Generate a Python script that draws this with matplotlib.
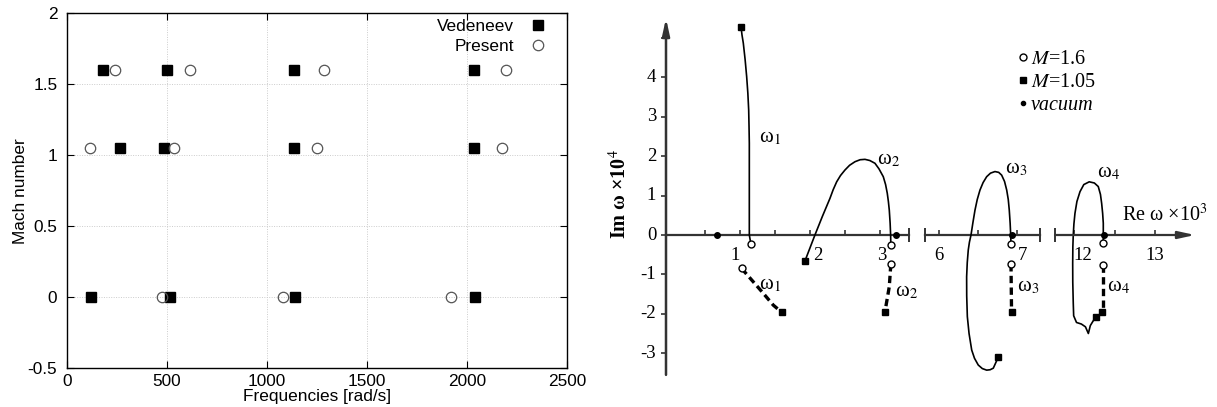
import numpy as np
import matplotlib
matplotlib.use("Agg")
import matplotlib.pyplot as plt
from matplotlib.lines import Line2D

# ---- left panel: Mach number vs frequency ----
VED_FREQ = [181, 502, 1134, 2034, 263, 483, 1134, 2034, 120, 517, 1141, 2038]
VED_MACH = [1.6, 1.6, 1.6, 1.6, 1.05, 1.05, 1.05, 1.05, 0, 0, 0, 0]
PRES_FREQ = [239, 613, 1284, 2195, 114, 534, 1248, 2176, 473, 1078, 1918]
PRES_MACH = [1.6, 1.6, 1.6, 1.6, 1.05, 1.05, 1.05, 1.05, 0, 0, 0]

# ---- right panel: eigenvalue traces (Re w x1e3, Im w x1e4) ----
W1_RE = [1.016, 1.03, 1.049, 1.075, 1.097, 1.114, 1.126, 1.131, 1.135, 1.135, 1.135, 1.159]
W1_IM = [5.29, 5.08, 4.87, 4.45, 4.02, 3.60, 3.17, 2.75, 2.33, 0.63, 0.0, -0.24]
W2_RE = [1.931, 2.074, 2.18, 2.289, 2.335, 2.385, 2.44, 2.504, 2.57, 2.647, 2.72, 2.790,
         2.86, 2.933, 2.99, 3.052, 3.085, 3.109, 3.125, 3.138, 3.15, 3.157, 3.16]
W2_IM = [-0.66, 0.0, 0.47, 0.93, 1.15, 1.35, 1.51, 1.65, 1.77, 1.86, 1.91, 1.92,
         1.89, 1.82, 1.68, 1.48, 1.28, 1.06, 0.85, 0.63, 0.30, 0.0, -0.25]
W3_RE = [6.760, 6.696, 6.655, 6.611, 6.555, 6.503, 6.455, 6.419, 6.385, 6.363, 6.355,
         6.354, 6.362, 6.375, 6.39, 6.410, 6.435, 6.461, 6.49, 6.525, 6.565, 6.611,
         6.66, 6.717, 6.765, 6.803, 6.84, 6.868, 6.888, 6.901, 6.912, 6.919, 6.923]
W3_IM = [-3.10, -3.38, -3.42, -3.43, -3.39, -3.30, -3.13, -2.92, -2.50, -2.07, -1.55,
         -1.06, -0.70, -0.38, -0.18, 0.0, 0.32, 0.63, 0.90, 1.14, 1.33, 1.48,
         1.57, 1.61, 1.59, 1.52, 1.36, 1.14, 0.90, 0.63, 0.30, 0.0, -0.23]
W4_RE = [12.268, 12.20, 12.176, 12.14, 12.09, 12.03, 11.995, 11.990, 11.984, 11.983,
         11.985, 11.990, 11.998, 12.011, 12.035, 12.073, 12.12, 12.187, 12.25, 12.298,
         12.325, 12.340, 12.352, 12.360, 12.360, 12.36]
W4_IM = [-2.07, -2.30, -2.50, -2.33, -2.26, -2.22, -2.05, -1.73, -1.20, -0.72,
         -0.30, 0.0, 0.28, 0.55, 0.85, 1.10, 1.28, 1.35, 1.32, 1.23,
         1.03, 0.80, 0.55, 0.30, 0.0, -0.21]

D1_RE = [1.025, 1.168, 1.335, 1.478, 1.598]
D1_IM = [-0.85, -1.14, -1.48, -1.78, -1.96]
D2_RE = [3.16, 3.138, 3.076]
D2_IM = [-0.74, -1.31, -1.95]
D3_RE = [6.923, 6.93]
D3_IM = [-0.74, -1.95]
D4_RE = [12.36, 12.36]
D4_IM = [-0.76, -1.95]

M16_RE = [1.159, 1.025, 3.16, 3.16, 6.923, 6.923, 12.36, 12.36]
M16_IM = [-0.24, -0.85, -0.25, -0.74, -0.23, -0.74, -0.21, -0.76]
M105_RE = [1.016, 1.598, 1.931, 3.076, 6.760, 6.93, 12.268, 12.346]
M105_IM = [5.29, -1.96, -0.66, -1.95, -3.10, -1.95, -2.07, -1.95]
VAC_RE = [0.668, 3.233, 6.935, 12.37]
VAC_IM = [0, 0, 0, 0]

YTICKS = [-3, -2, -1, 0, 1, 2, 3, 4]
XTICKS = [0.5, 1, 1.5, 2, 2.5, 3, 6, 6.5, 7, 12, 12.5, 13]
XLABELS = [1, 2, 3, 6, 7, 12, 13]
XLABEL_DX = [-5, 8, 2, 0, 5, 9, 0]  # pixel nudges of the printed labels

# broken real axis: Re value -> figure pixel column
RE_BP = [-10, 0, 3.42, 5.82, 7.295, 11.765, 13.49, 25]
PX_BP = [-29, 670, 909, 925, 1040, 1055, 1195, 2130]
SEGMENTS = [(3.42, 5.82), (7.295, 11.765)]


def fwd(x):
    return np.interp(x, RE_BP, PX_BP)


def inv(p):
    return np.interp(p, PX_BP, RE_BP)


W, H = 1217, 407
fig = plt.figure(figsize=(W / 100, H / 100), dpi=100)

# ---------------- left ----------------
ax = fig.add_axes([67 / W, 1 - 368.3 / H, 500 / W, 355 / H])
sans = "Liberation Sans"
ax.plot(VED_FREQ, VED_MACH, "s", color="black", ms=7.5, label="Vedeneev", zorder=3)
ax.plot(PRES_FREQ, PRES_MACH, "o", mfc="none", mec="#555555", mew=0.9, ms=7.5,
        label="Present", zorder=4)
ax.set_xlim(0, 2500)
ax.set_ylim(-0.5, 2)
ax.set_xticks([0, 500, 1000, 1500, 2000, 2500])
ax.set_yticks([-0.5, 0, 0.5, 1, 1.5, 2])
ax.set_yticklabels(["-0.5", "0", "0.5", "1", "1.5", "2"])
ax.grid(color="#cccccc", linestyle=(0, (1, 1.5)), linewidth=0.7)
ax.tick_params(direction="in", top=True, right=True, length=5, width=0.8,
               labelsize=12.4, pad=4)
ax.tick_params(axis="y", pad=7)
for lab in ax.get_xticklabels() + ax.get_yticklabels():
    lab.set_family(sans)
for s in ax.spines.values():
    s.set_linewidth(1.0)
ax.set_xlabel("Frequencies [rad/s]", family=sans, fontsize=12.4, labelpad=0)
ax.set_ylabel("Mach number", family=sans, fontsize=12.4, labelpad=-0.5)
leg = ax.legend(loc="upper right", bbox_to_anchor=(1 - 12 / 500, 1 + 3 / 355),
                markerfirst=False, frameon=False,
                prop={"family": sans, "size": 12.4}, handlelength=1.0,
                handletextpad=0.9, borderaxespad=0.1, labelspacing=0.3)

# ---------------- right ----------------
plt.rcParams["mathtext.fontset"] = "stix"
serif = "Liberation Serif"
bx = fig.add_axes([600 / W, 0, 617 / W, 1])
bx.set_xscale("function", functions=(fwd, inv))
bx.set_xlim(inv(600), inv(1217))
bx.set_ylim((235 - 407) / 39.4, 235 / 39.4)
bx.axis("off")
ax_col = "#333333"
y_axis_re = inv(666)

# axes
bx.annotate("", xy=(y_axis_re, 5.5), xytext=(y_axis_re, -3.55),
            arrowprops=dict(arrowstyle="-|>,head_width=0.22,head_length=1.0",
                            lw=1.8, color=ax_col, shrinkA=0, shrinkB=0))
edges = [y_axis_re] + [v for seg in SEGMENTS for v in seg]
bx.plot([edges[0], edges[1]], [0, 0], color=ax_col, lw=1.6)
bx.plot([edges[2], edges[3]], [0, 0], color=ax_col, lw=1.6)
bx.annotate("", xy=(13.49, 0), xytext=(edges[4], 0),
            arrowprops=dict(arrowstyle="-|>,head_width=0.22,head_length=1.0",
                            lw=1.6, color=ax_col, shrinkA=0, shrinkB=0))
bx.plot(edges[1:], [0] * 4, "|", color=ax_col, ms=10, mew=1.4)
bx.plot(XTICKS, [0] * len(XTICKS), marker=2, ls="none", color=ax_col, ms=3.5, mew=1.2)
bx.plot([y_axis_re] * 9, YTICKS + [5], marker=0, ls="none", color=ax_col, ms=3.5, mew=1.2)

for v in YTICKS:
    bx.annotate(str(v), xy=(y_axis_re, v), xytext=(-7, 0), textcoords="offset points",
                ha="right", va="center", family=serif, fontsize=13.5)
for v, dx in zip(XLABELS, XLABEL_DX):
    bx.annotate(str(v), xy=(v, 0), xytext=(dx * 0.72, -14.4), textcoords="offset points",
                ha="center", va="center", family=serif, fontsize=13.5)

# traces
for xs, ys in [(W1_RE, W1_IM), (W2_RE, W2_IM), (W3_RE, W3_IM), (W4_RE, W4_IM)]:
    bx.plot(xs, ys, color="black", lw=1.2)
for xs, ys in [(D1_RE, D1_IM), (D2_RE, D2_IM), (D3_RE, D3_IM), (D4_RE, D4_IM)]:
    bx.plot(xs, ys, color="black", lw=2.4, dashes=(2.2, 1.3))
bx.plot(VAC_RE, VAC_IM, "o", color="black", ms=4, zorder=5)
bx.plot(M105_RE, M105_IM, "s", color="black", ms=4.8, zorder=5)
bx.plot(M16_RE, M16_IM, "o", mfc="white", mec="black", mew=1.0, ms=5, zorder=6)

# omega labels
lab_kw = dict(family=serif, fontsize=15, ha="center", va="center")
for x, y, txt in [(1.431, 2.46, "ω$_1$"), (1.431, -1.27, "ω$_1$"),
                  (3.133, 1.90, "ω$_2$"), (3.39, -1.44, "ω$_2$"),
                  (6.987, 1.69, "ω$_3$"), (7.144, -1.31, "ω$_3$"),
                  (12.421, 1.57, "ω$_4$"), (12.544, -1.31, "ω$_4$")]:
    bx.text(x, y, txt, **lab_kw)

bx.text(13.12, 0.51, "Re ω ×10$^3$", family=serif, fontsize=14.5,
        ha="center", va="center")
bx.text(inv(620), 1.04, "Im ω ×10$^4$", family=serif,
        fontsize=14.5, weight="bold", rotation=90, ha="center", va="center")

handles = [
    Line2D([], [], marker="o", ls="none", mfc="white", mec="black", ms=5),
    Line2D([], [], marker="s", ls="none", color="black", ms=4.8),
    Line2D([], [], marker="o", ls="none", color="black", ms=3),
]
leg2 = bx.legend(handles, ["$M$=1.6", "$M$=1.05", "vacuum"], loc="upper left",
                 bbox_to_anchor=((1019 - 600) / 617, 1 - 50 / 407), frameon=False,
                 handlelength=0.4, handletextpad=0.2, labelspacing=0.2,
                 borderaxespad=0, borderpad=0, prop={"family": serif, "size": 14.5})
leg2.get_texts()[2].set_style("italic")

fig.savefig("out.png", dpi=100)
